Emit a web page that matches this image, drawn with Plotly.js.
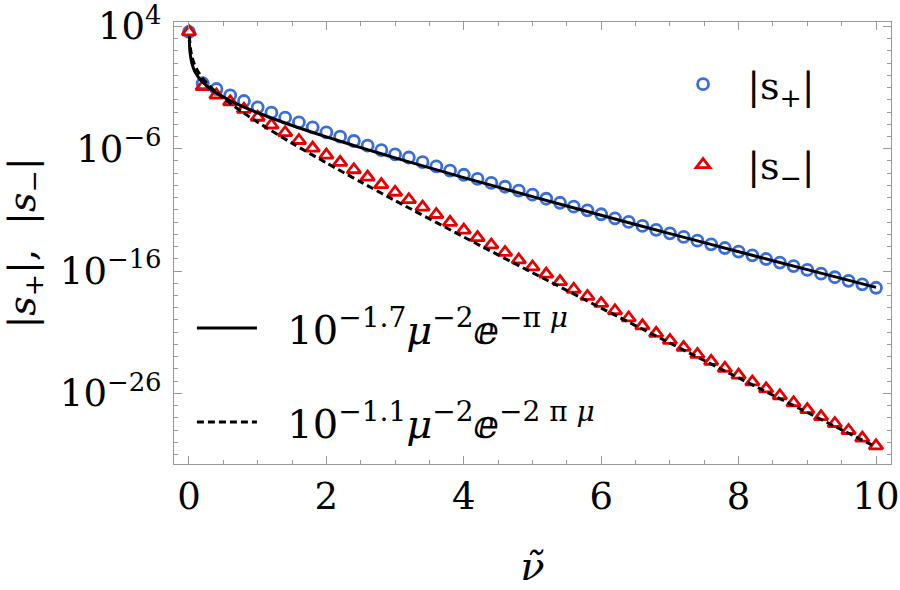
<!DOCTYPE html>
<html><head><meta charset="utf-8">
<script src="https://cdn.plot.ly/plotly-3.0.1.min.js"></script>
<style>html,body{margin:0;padding:0;background:#fff}</style>
</head><body><div id="chart" style="width:900px;height:590px"></div>
<script>
// nu-tilde sample points
var nuPts = [0,0.2,0.4,0.6,0.8,1.0,1.2,1.4,1.6,1.8,2.0,2.2,2.4,2.6,2.8,3.0,3.2,3.4,3.6,3.8,4.0,4.2,4.4,4.6,4.8,5.0,
             5.2,5.4,5.6,5.8,6.0,6.2,6.4,6.6,6.8,7.0,7.2,7.4,7.6,7.8,8.0,8.2,8.4,8.6,8.8,9.0,9.2,9.4,9.6,9.8,10.0];
// log10 |s+|
var logSPlus = [3.55,-0.65,-1.12,-1.64,-2.10,-2.62,-3.05,-3.46,-3.84,-4.25,-4.66,-5.02,-5.37,-5.75,-6.11,-6.46,-6.72,-7.10,-7.45,-7.79,-8.13,-8.47,-8.80,-9.11,-9.43,-9.76,
                -10.09,-10.42,-10.74,-11.04,-11.36,-11.69,-11.99,-12.31,-12.63,-12.92,-13.21,-13.52,-13.82,-14.12,-14.41,-14.72,-15.02,-15.31,-15.60,-15.91,-16.22,-16.51,-16.80,-17.09,-17.37];
// log10 |s-|
var logSMinus = [3.55,-0.93,-1.61,-2.16,-2.78,-3.43,-4.06,-4.69,-5.33,-5.95,-6.52,-7.12,-7.72,-8.32,-8.94,-9.56,-10.17,-10.77,-11.38,-12.02,-12.65,-13.27,-13.87,-14.48,-15.09,-15.67,
                 -16.25,-16.87,-17.49,-18.08,-18.65,-19.25,-19.84,-20.48,-21.10,-21.68,-22.25,-22.82,-23.39,-23.95,-24.51,-25.07,-25.64,-26.20,-26.77,-27.33,-27.90,-28.47,-29.04,-29.66,-30.30];
// fit curves
var fitNu1 = [0.005,0.01,0.02,0.04,0.07,0.1,0.15,0.2,0.3,0.4,0.6,0.8,1,1.5,2,2.5,3,4,5,6,7,8,9,10];
var logFit1 = [2.90,2.29,1.67,1.04,0.51,0.16,-0.26,-0.57,-1.06,-1.45,-2.08,-2.60,-3.06,-4.10,-5.03,-5.91,-6.75,-8.36,-9.92,-11.44,-12.94,-14.42,-15.89,-17.34];
var fitNu2 = [0.007,0.01,0.02,0.04,0.07,0.1,0.15,0.2,0.3,0.4,0.6,0.8,1,1.5,2,2.5,3,4,5,6,7,8,9,10];
var logFit2 = [3.19,2.87,2.24,1.59,1.02,0.63,0.14,-0.25,-0.87,-1.40,-2.29,-3.09,-3.83,-5.55,-7.16,-8.72,-10.24,-13.22,-16.14,-19.03,-21.89,-24.74,-27.57,-30.39];
// axis ticks
var xTicks = [0,2,4,6,8,10];
var yTickExp = [4,-6,-16,-26];
var yTickText = ['10<sup>4</sup>','10<sup>−6</sup>','10<sup>−16</sup>','10<sup>−26</sup>'];
var NB = '\u00a0';
var legendNames = [NB+NB+'|s<sub>+</sub>|', NB+NB+'|s<sub>−</sub>|',
  NB+NB+'10<sup>−1.7</sup><i>μ</i><sup>−2</sup>ⅇ<sup>−π <i>μ</i></sup>',
  NB+NB+'10<sup>−1.1</sup><i>μ</i><sup>−2</sup>ⅇ<sup>−2 π <i>μ</i></sup>'];

function pow10(a){return a.map(function(v){return Math.pow(10,v);});}
var minorY = [];
for (var e = 4; e >= -31; e--) minorY.push(Math.pow(10,e));

var FONT = 'DejaVu Serif';
var traces = [
  {x: nuPts, y: pow10(logSPlus), type:'scatter', mode:'markers', name: legendNames[0], legend:'legend', legendgroup:'a',
   marker:{symbol:'circle-open', size:11, color:'#3a6ed8', line:{width:2.8, color:'#3a6ed8'}}},
  {x: nuPts, y: pow10(logSMinus), type:'scatter', mode:'markers', name: legendNames[1], legend:'legend', legendgroup:'b',
   marker:{symbol:'triangle-up-open', size:12, color:'#e80000', line:{width:2.8, color:'#e80000'}}},
  {x: fitNu1, y: pow10(logFit1), type:'scatter', mode:'lines', name: legendNames[2], legend:'legend2', legendgroup:'c',
   line:{color:'#000', width:3, shape:'spline', smoothing:0.8}},
  {x: fitNu2, y: pow10(logFit2), type:'scatter', mode:'lines', name: legendNames[3], legend:'legend2', legendgroup:'d',
   line:{color:'#000', width:3, dash:'7px,4px', shape:'spline', smoothing:0.8}}
];
var layout = {
  width:900, height:590,
  margin:{l:174, r:9, t:22, b:126},
  paper_bgcolor:'#fff', plot_bgcolor:'#fff',
  font:{family:FONT, color:'#000'},
  showlegend:true,
  legend:{x:0.71, y:0.93, xanchor:'left', yanchor:'top', bgcolor:'rgba(0,0,0,0)', font:{family:FONT, size:38},
          tracegroupgap:28, itemsizing:'trace'},
  legend2:{x:0.025, y:0.381, xanchor:'left', yanchor:'top', bgcolor:'rgba(0,0,0,0)', font:{family:FONT, size:40},
          tracegroupgap:39, itemwidth:60},
  xaxis:{range:[-0.218,10.218], tickmode:'array', tickvals:xTicks, ticks:'inside', ticklen:8, tickwidth:1, tickcolor:'#999',
         showline:true, linecolor:'#999', linewidth:1, mirror:'ticks', showgrid:false, zeroline:false,
         tickfont:{family:FONT, size:37, color:'#000'}, ticklabeloverflow:'allow',
         minor:{dtick:0.5, ticks:'inside', ticklen:4, tickcolor:'#999', showgrid:false},
         title:{text:'<i>ν̃</i>', font:{family:FONT, size:40, color:'#000'}, standoff:34}},
  yaxis:{type:'log', range:[-31.78,4.36], tickmode:'array', tickvals:pow10(yTickExp), ticktext:yTickText,
         ticks:'inside', ticklen:8, tickwidth:1, tickcolor:'#999',
         showline:true, linecolor:'#999', linewidth:1, mirror:'ticks', showgrid:false, zeroline:false,
         tickfont:{family:FONT, size:37, color:'#000'}, ticklabelstandoff:4, ticklabeloverflow:'allow',
         minor:{tickmode:'array', tickvals:minorY, ticks:'inside', ticklen:4, tickcolor:'#999', showgrid:false},
         title:{text:'|<i>s</i><sub>+</sub>|,  |<i>s</i><sub>−</sub>|', font:{family:FONT, size:38, color:'#000'}, standoff:12}}
};
Plotly.newPlot('chart', traces, layout, {displayModeBar:false, staticPlot:true});
</script></body></html>
